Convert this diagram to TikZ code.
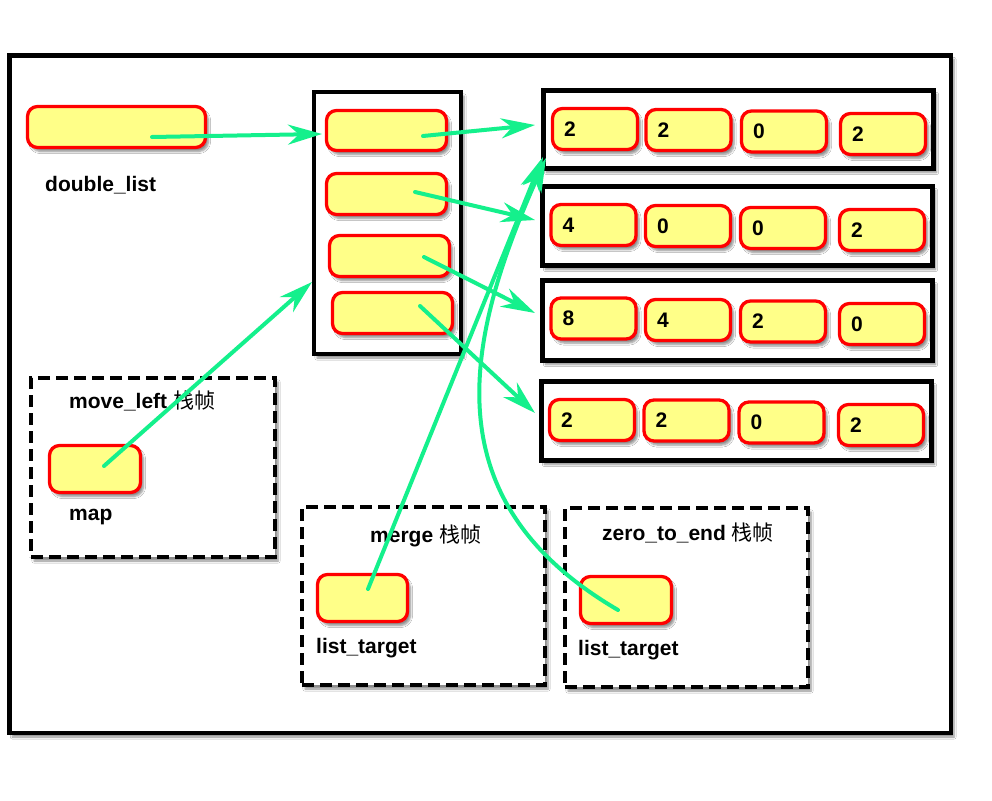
\documentclass[tikz,border=0pt]{standalone}
\usepackage{fontspec}
\setmainfont{Liberation Sans}
\newfontfamily\cjk{Noto Sans CJK SC}
\usetikzlibrary{arrows.meta,shadows.blur}
\definecolor{grn}{RGB}{20,240,140}
\definecolor{yel}{RGB}{255,255,136}
\begin{document}
\begin{tikzpicture}[x=1pt,y=-1pt,
  shd/.style={blur shadow={shadow xshift=3pt,shadow yshift=-4pt,shadow blur steps=6,shadow opacity=45}},
  cell/.style={draw=red,line width=3.3pt,fill=yel,rounded corners=10pt,minimum width=85pt,minimum height=41pt,inner sep=0pt,shd},
  holder/.style={draw=black,line width=4.5pt,fill=white,inner sep=0pt,shd},
  frame/.style={draw=black,fill=white,line width=4pt,dash pattern=on 12pt off 6pt,inner sep=0pt,shd},
  lbl/.style={font=\bfseries\fontsize{21}{24}\selectfont,inner sep=0pt,anchor=base west},
  num/.style={font=\bfseries\fontsize{21}{24}\selectfont,inner sep=0pt,anchor=west},
  ptr/.style={draw=grn,line width=4pt,line cap=round,-{Stealth[length=34pt,width=20pt,inset=11pt]}}
]
\useasboundingbox (0,0) rectangle (992,800);
\fill[white] (0,0) rectangle (992,800);
% outer frame
\node[holder,minimum width=941.5pt,minimum height=677.5pt] (outer) at (480.25,394.25) {};
% dashed frames
\node[frame,minimum width=244pt,minimum height=179pt] (fml) at (153,467.5) {};
\node[frame,minimum width=243pt,minimum height=178pt] (fmg) at (423.5,596) {};
\node[frame,minimum width=243pt,minimum height=179pt] (fze) at (686.5,597.5) {};
% double_list
\node[cell,minimum width=178pt,minimum height=41pt] (dl) at (116.5,127) {};
\node[lbl] (dlt) at (45,191) {double\_list};
% middle holder
\node[holder,minimum width=147pt,minimum height=262pt] (mid) at (387.5,223) {};
\node[cell,minimum width=120pt,minimum height=40pt] (b1) at (386.5,130.5) {};
\node[cell,minimum width=120pt] (b2) at (386.5,194) {};
\node[cell,minimum width=120pt] (b3) at (389.5,256) {};
\node[cell,minimum width=120pt] (b4) at (392.5,313) {};
% rows
\node[holder,minimum width=390pt,minimum height=78pt] (r1) at (738.5,129.5) {};
\node[holder,minimum width=390pt,minimum height=79pt] (r2) at (737.5,226) {};
\node[holder,minimum width=390pt,minimum height=80pt] (r3) at (737.5,320.5) {};
\node[holder,minimum width=390pt,minimum height=79pt] (r4) at (736.5,421) {};
\foreach \n/\x/\y/\v in {
  c11/595/129/2, c12/688.5/130/2, c13/784/131.5/0, c14/883/134/2,
  c21/593.5/225/4, c22/688/226/0, c23/783/228/0, c24/882/230/2,
  c31/593.5/318.5/8, c32/688/320/4, c33/783/321.5/2, c34/882/324/0,
  c41/592/420/2, c42/686.5/420.5/2, c43/781.5/422.5/0, c44/881/425/2}{
  \node[cell] (\n) at (\x,\y) {};
  \node[num] (\n t) at ([xshift=13pt]\n.west) {\v};
}
% move_left frame
\node[lbl] (mlt) at (69,408) {move\_left {\cjk\mdseries 栈帧}};
\node[cell,minimum width=91pt,minimum height=47pt] (map) at (95,469) {};
\node[lbl] (mapt) at (69,520) {map};
% merge frame
\node[lbl] (mgt) at (370,542) {merge {\cjk\mdseries 栈帧}};
\node[cell,minimum width=90pt,minimum height=47pt] (mlst) at (362.5,598) {};
\node[lbl] (mlstt) at (316,653) {list\_target};
% zero_to_end frame
\node[lbl] (zet) at (602,540) {zero\_to\_end {\cjk\mdseries 栈帧}};
\node[cell,minimum width=91pt,minimum height=47pt] (zlst) at (626,600) {};
\node[lbl] (zlstt) at (578,655) {list\_target};
% pointer coordinates
\coordinate (s1) at (152,137); \coordinate (e1) at (322,134);
\coordinate (s2) at (423,136); \coordinate (e2) at (535,125);
\coordinate (s3) at (415,192); \coordinate (e3) at (535,220);
\coordinate (s4) at (424,257); \coordinate (e4) at (535,313);
\coordinate (s5) at (420,306); \coordinate (e5) at (535,413);
\coordinate (s6) at (104,466); \coordinate (e6) at (312,282);
\coordinate (s7) at (368,589); \coordinate (e7) at (543,157);
\coordinate (s8) at (618,610); \coordinate (e8) at (546,158);
% pointers
\draw[ptr] (s1) -- (e1);
\draw[ptr] (s2) -- (e2);
\draw[ptr] (s3) -- (e3);
\draw[ptr] (s4) -- (e4);
\draw[ptr] (s5) -- (e5);
\draw[ptr] (s6) -- (e6);
\draw[ptr] (s7) -- (e7);
\draw[ptr] (s8) .. controls (430,500) and (465,340) .. (e8);
\end{tikzpicture}
\end{document}
